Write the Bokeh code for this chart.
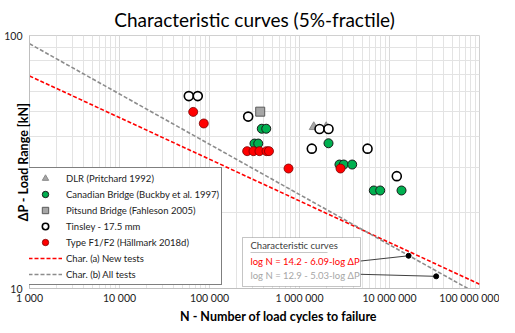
from bokeh.plotting import figure
from bokeh.layouts import column
from bokeh.models import (Range1d, FixedTicker, CustomJSTickFormatter, Legend, LegendItem,
                          Label, BoxAnnotation, PolyAnnotation, Div)
from bokeh.embed import file_html
from bokeh.resources import INLINE

# ---------------- data ----------------
dlr_n = [1.44e6, 1.98e6]
dlr_p = [43.5, 43.5]

can_n = [3.81e5, 4.27e5, 3.16e5, 3.48e5, 2.10e6, 2.78e6, 3.10e6, 3.85e6, 6.69e6, 7.88e6, 1.36e7]
can_p = [42.8, 42.8, 37.4, 37.4, 37.5, 30.9, 30.9, 30.9, 24.4, 24.4, 24.4]

pit_n = [3.66e5]
pit_p = [50.0]

tin_n = [5.89e4, 7.41e4, 2.69e5, 1.67e6, 2.10e6, 1.37e6, 5.70e6, 1.205e7]
tin_p = [57.6, 57.6, 47.8, 42.7, 42.7, 35.7, 35.7, 27.8]

f12_n = [6.59e4, 8.64e4, 2.62e5, 3.08e5, 3.59e5, 4.30e5, 4.58e5, 7.55e5, 2.855e6]
f12_p = [49.9, 44.9, 34.9, 34.9, 34.9, 34.9, 34.9, 29.8, 29.8]

char_a_n = [1e3, 1e8]
char_a_p = [69.2, 10.4]
char_b_n = [1e3, 7.4e7]
char_b_p = [92.8, 10.0]

# annotation leader lines (box edge -> marked point on the curves)
lead_n0 = [4.76e6, 4.76e6]
lead_p0 = [12.84, 11.38]
dot_n = [1.63e7, 3.30e7]
dot_p = [13.47, 11.17]

x_major = [1e3, 1e4, 1e5, 1e6, 1e7, 1e8]
y_major = [10, 100]

FONT = "Lato"

p = figure(width=499, height=306, x_axis_type="log", y_axis_type="log",
           x_range=Range1d(1e3, 1e8), y_range=Range1d(10, 100),
           output_backend="svg", toolbar_location=None,
           min_border_left=29, min_border_right=20, min_border_top=28, min_border_bottom=0,
           title="Characteristic curves (5%-fractile)")

p.title.align = "center"
p.title.text_font = FONT
p.title.text_font_size = "19px"
p.title.text_font_style = "normal"
p.title.text_color = "#000000"

p.xaxis.ticker = FixedTicker(ticks=x_major,
                             minor_ticks=[m * d for d in x_major[:-1] for m in range(2, 10)])
p.yaxis.ticker = FixedTicker(ticks=y_major, minor_ticks=[m * 10 for m in range(2, 10)])
p.xaxis.formatter = CustomJSTickFormatter(
    code="return Math.round(tick).toString().replace(/\\B(?=(\\d{3})+(?!\\d))/g, ' ');")
p.yaxis.formatter = CustomJSTickFormatter(code="return Math.round(tick).toString();")

for ax in (p.xaxis, p.yaxis):
    ax.major_tick_in = 0
    ax.major_tick_out = 0
    ax.minor_tick_in = 0
    ax.minor_tick_out = 0
    ax.axis_line_color = "#bfbfbf"
    ax.major_label_text_font = FONT
    ax.major_label_text_font_size = "10.5px"
    ax.major_label_text_color = "#222222"
p.xaxis.major_label_standoff = 3
p.xaxis.axis_label_standoff = 0
p.yaxis.major_label_standoff = 7

# y-axis title (negative standoff lets it share space with the two tick labels)
p.yaxis.axis_label = "ΔP - Load Range [kN]"
p.yaxis.axis_label_text_font = FONT
p.yaxis.axis_label_text_font_size = "12.5px"
p.yaxis.axis_label_text_font_style = "bold"
p.yaxis.axis_label_text_color = "black"
p.yaxis.axis_label_standoff = -30

p.xgrid.grid_line_color = "#d9d9d9"
p.ygrid.grid_line_color = "#d9d9d9"
p.xgrid.minor_grid_line_color = "#e3e3e3"
p.ygrid.minor_grid_line_color = "#e3e3e3"
p.outline_line_color = "#d0d0d0"
p.background_fill_color = "white"
p.border_fill_color = "white"

# characteristic curves
r_a = p.line(char_a_n, char_a_p, line_color="#ff0000", line_width=1.6, line_dash="4 2")
r_b = p.line(char_b_n, char_b_p, line_color="#8c8c8c", line_width=1.6, line_dash="4 2")

# leader lines + points
p.segment(x0=lead_n0, y0=lead_p0, x1=dot_n, y1=dot_p, line_color="#404040", line_width=1)
p.scatter(dot_n, dot_p, size=5, fill_color="black", line_color="black")

# test series
r_dlr = p.scatter(dlr_n, dlr_p, marker="triangle", size=9, fill_color="#a6a6a6", line_color="#8c8c8c")
r_can = p.scatter(can_n, can_p, marker="circle", size=9, fill_color="#00b050", line_color="#1a1a1a", line_width=1)
r_pit = p.scatter(pit_n, pit_p, marker="square", size=9, fill_color="#a6a6a6", line_color="#595959", line_width=1)
r_tin = p.scatter(tin_n, tin_p, marker="circle", size=9, fill_color="white", line_color="black", line_width=1.6)
r_f12 = p.scatter(f12_n, f12_p, marker="circle", size=9, fill_color="#ff0000", line_color="#7a0000", line_width=0.8)

legend = Legend(items=[
    LegendItem(label="DLR (Pritchard 1992)", renderers=[r_dlr]),
    LegendItem(label="Canadian Bridge (Buckby et al. 1997)", renderers=[r_can]),
    LegendItem(label="Pitsund Bridge (Fahleson 2005)", renderers=[r_pit]),
    LegendItem(label="Tinsley - 17.5 mm", renderers=[r_tin]),
    LegendItem(label="Type F1/F2 (Hällmark 2018d)", renderers=[r_f12]),
    LegendItem(label="Char. (a) New tests", renderers=[r_a]),
    LegendItem(label="Char. (b) All tests", renderers=[r_b]),
], location=(-4, 3))
legend.label_text_font = FONT
legend.label_text_font_size = "9.5px"
legend.label_text_color = "#222222"
legend.label_height = 16
legend.glyph_height = 16
legend.glyph_width = 34
legend.label_standoff = 4
legend.spacing = 0
legend.padding = 2
legend.margin = 0
legend.border_line_color = "black"
legend.border_line_width = 1
legend.background_fill_color = "white"
legend.background_fill_alpha = 1
p.add_layout(legend)

# annotation box with equations
p.add_layout(BoxAnnotation(left=213, right=331, bottom=2, top=51,
                           left_units="screen", right_units="screen",
                           bottom_units="screen", top_units="screen",
                           fill_color="white", fill_alpha=1,
                           line_color="#404040", line_width=1))
p.add_layout(Label(x=221, y=43, x_units="screen", y_units="screen",
                   text="Characteristic curves", text_font=FONT, text_font_size="9.5px",
                   text_color="#404040", text_baseline="middle"))
p.add_layout(PolyAnnotation(xs=[221, 298], ys=[36, 36], xs_units="screen", ys_units="screen",
                            line_color="#404040", line_width=1, fill_alpha=0))
p.add_layout(Label(x=221, y=27, x_units="screen", y_units="screen",
                   text="log N = 14.2 - 6.09-log ΔP", text_font=FONT, text_font_size="9.5px",
                   text_color="#ff0000", text_baseline="middle"))
p.add_layout(Label(x=221, y=13, x_units="screen", y_units="screen",
                   text="log N = 12.9 - 5.03-log ΔP", text_font=FONT, text_font_size="9.5px",
                   text_color="#a6a6a6", text_baseline="middle"))

# x-axis title placed below the figure, shifted right like the reference
xtitle = Div(text="N - Number of load cycles to failure", width=499, height=11,
             styles={"font-family": "Lato", "font-weight": "bold", "font-size": "12.5px",
                     "line-height": "12px", "text-indent": "175px", "color": "black",
                     "white-space": "nowrap"})

layout = column(p, xtitle, spacing=0)

open("out.html", "w").write(file_html(layout, INLINE))
